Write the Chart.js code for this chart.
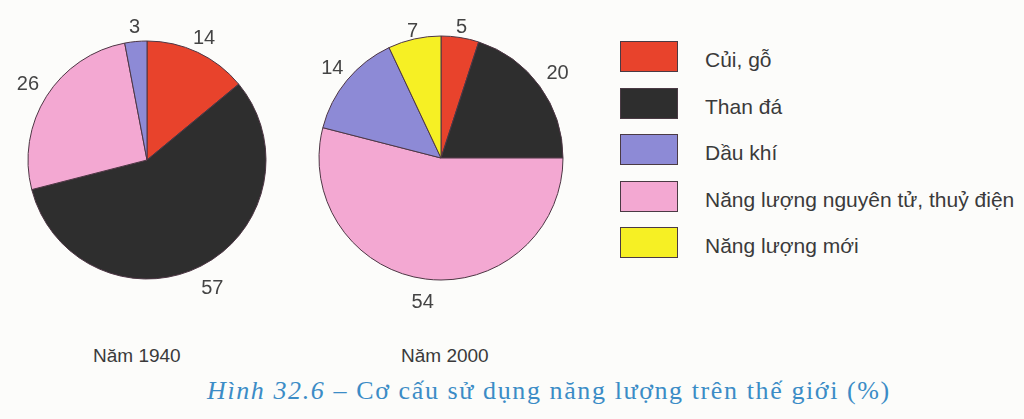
<!DOCTYPE html>
<html><head><meta charset="utf-8">
<script src="https://cdn.jsdelivr.net/npm/chart.js@4.4.1/dist/chart.umd.min.js"></script>
<style>
html,body{margin:0;padding:0;background:#fcfcfa;width:1024px;height:419px;overflow:hidden;position:relative;font-family:"Liberation Sans",Arial,sans-serif;}
.cv{position:absolute;}
#legend{position:absolute;left:620px;top:41px;}
.li{position:relative;height:46.5px;}
.box{position:absolute;left:0;top:0;width:56px;height:29px;border:1px solid #4a3a44;}
.lt{position:absolute;left:85px;top:8px;font-size:21px;line-height:1;color:#3a3a3a;white-space:nowrap;}
.cap{position:absolute;top:346px;font-size:19px;line-height:1;color:#3a3a3a;white-space:nowrap;}
#title{position:absolute;left:207px;top:378px;font-family:"Liberation Serif","Times New Roman",serif;font-size:26px;line-height:1;letter-spacing:1.6px;color:#3b8cc6;white-space:nowrap;}
</style></head>
<body>
<canvas id="c1" class="cv" style="left:-3px;top:0px;width:300px;height:320px"></canvas>
<canvas id="c2" class="cv" style="left:291px;top:-2px;width:300px;height:320px"></canvas>
<div id="legend"></div>
<div class="cap" style="left:93px">Năm 1940</div>
<div class="cap" style="left:401px">Năm 2000</div>
<div id="title"><i>Hình 32.6</i> – Cơ cấu sử dụng năng lượng trên thế giới (%)</div>
<script>
// Categories in legend order
const categories = ["Củi, gỗ", "Than đá", "Dầu khí", "Năng lượng nguyên tử, thuỷ điện", "Năng lượng mới"];
const colors = ["#e8432c", "#2e2e2e", "#8d8ad6", "#f3a8d2", "#f6f024"];
const values1940 = [14, 57, 3, 26, 0];
const values2000 = [5, 20, 14, 54, 7];
const yearLabels = ["Năm 1940", "Năm 2000"];
// clockwise drawing order (indices into categories)
const drawOrder = [0, 1, 3, 2, 4];

const legendEl = document.getElementById('legend');
categories.forEach((c, i) => {
  const d = document.createElement('div'); d.className = 'li';
  d.innerHTML = '<div class="box" style="background:' + colors[i] + '"></div><div class="lt">' + c + '</div>';
  legendEl.appendChild(d);
});

const outLabels = {
  id: 'outLabels',
  afterDatasetsDraw(chart, args, opts) {
    const ctx = chart.ctx;
    const meta = chart.getDatasetMeta(0);
    const data = chart.data.datasets[0].data;
    ctx.save();
    ctx.font = '20px "Liberation Sans", Arial, sans-serif';
    ctx.fillStyle = '#444444';
    ctx.textAlign = 'center';
    ctx.textBaseline = 'middle';
    meta.data.forEach((arc, i) => {
      if (!data[i]) return;
      const p = arc.getProps(['x', 'y', 'startAngle', 'endAngle', 'outerRadius'], true);
      const a = (p.startAngle + p.endAngle) / 2;
      const r = p.outerRadius + (opts.offsets ? opts.offsets[i] : 18);
      ctx.fillText(String(data[i]), p.x + Math.cos(a) * r, p.y + Math.sin(a) * r);
    });
    ctx.restore();
  }
};

function makePie(id, values, radius, offsets) {
  const ordered = drawOrder.map(i => values[i]);
  new Chart(document.getElementById(id), {
    type: 'pie',
    data: {
      labels: drawOrder.map(i => categories[i]),
      datasets: [{
        data: ordered,
        backgroundColor: drawOrder.map(i => colors[i]),
        borderColor: '#4d3644',
        borderWidth: 1
      }]
    },
    options: {
      responsive: false,
      animation: false,
      radius: radius,
      plugins: { legend: { display: false }, tooltip: { enabled: false }, outLabels: { offsets: offsets } }
    },
    plugins: [outLabels]
  });
}
function setup(id){const c=document.getElementById(id);c.width=300;c.height=320;}
setup('c1'); setup('c2');
makePie('c1', values1940, 119, [15, 25, 22, 14, 0]);
makePie('c2', values2000, 122, [10, 22, 24, 19, 8]);
</script>
</body></html>
